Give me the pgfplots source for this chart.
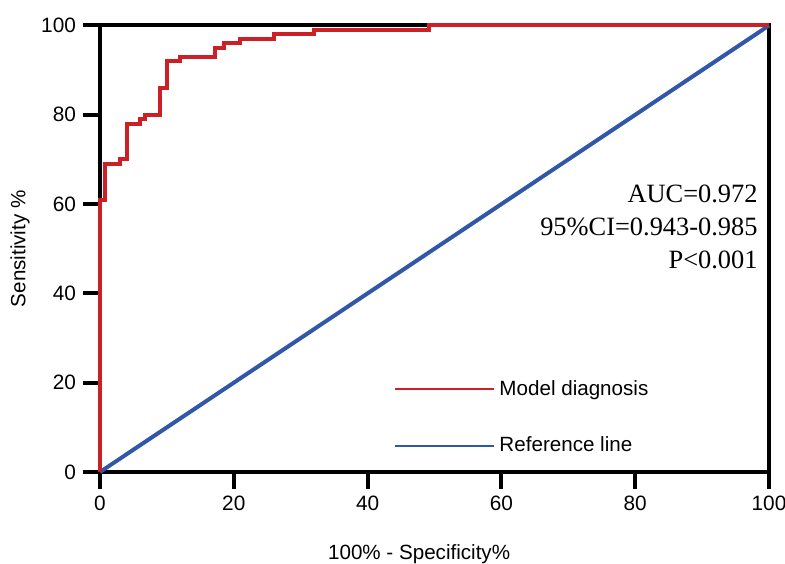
\documentclass[border=0pt]{standalone}
\usepackage{pgfplots}
\pgfplotsset{compat=1.18}
\usepackage{fontspec}
\setmainfont{Liberation Sans}
\newfontfamily\serifA{Liberation Serif}
\definecolor{rocred}{HTML}{CC2027}
\definecolor{refblue}{HTML}{3157A8}
\begin{document}
\begin{tikzpicture}
\begin{axis}[
  scale only axis, width=334.5pt, height=223.25pt,
  xmin=0, xmax=100, ymin=0, ymax=100,
  xtick={0,20,...,100}, ytick={0,20,...,100},
  xtick pos=bottom, ytick pos=left, tick align=outside,
  major tick length=8.5pt,
  every tick/.style={black, line width=2pt},
  axis line style={black, line width=2pt},
  font=\fontsize{10.3}{12}\selectfont,
  /pgf/number format/assume math mode=true,
  ticklabel style={font=\fontsize{10.4}{12}\selectfont},
  xlabel={100\% - Specificity\%},
  ylabel={Sensitivity \%},
  xlabel style={at={(axis description cs:0.477,-0.183)}, anchor=center},
  ylabel style={at={(axis description cs:-0.1196,0.5)}, anchor=center, rotate=0},
  clip=false,
  reverse legend,
  legend image code/.code={\draw[#1, line width=1.4pt] (0pt,0pt) -- (49.3pt,0pt);},
  legend style={draw=none, fill=none, inner sep=0pt, row sep=15.5pt,
    font=\fontsize{10.3}{12}\selectfont,
    at={(axis cs:43.9,12.2)}, anchor=west},
  legend cell align=left,
]
\addplot[refblue, line width=2pt] coordinates {(0,0) (100,100)};
\addlegendentry{Reference line}
\addplot[rocred, line width=2pt, line join=miter] coordinates {
(0,0) (0,61) (0.8,61) (0.8,69) (3,69) (3,70) (4,70) (4,78) (6,78) (6,79)
(6.8,79) (6.8,80) (9,80) (9,86) (10,86) (10,92) (12,92) (12,93)
(17.2,93) (17.2,95) (18.5,95) (18.5,96) (21,96) (21,97) (26,97) (26,98)
(32,98) (32,99) (49.2,99) (49.2,100) (100,100)};
\addlegendentry{Model diagnosis}
\node[font=\serifA\fontsize{13.2}{14}\selectfont, anchor=base east, inner sep=0pt] at (axis cs:98.35,60.25) {AUC=0.972};
\node[font=\serifA\fontsize{13.2}{14}\selectfont, anchor=base east, inner sep=0pt] at (axis cs:98.35,52.9) {95\%CI=0.943-0.985};
\node[font=\serifA\fontsize{13.2}{14}\selectfont, anchor=base east, inner sep=0pt] at (axis cs:98.35,45.5) {P<0.001};
\coordinate (sw) at (rel axis cs:0,0);
\coordinate (ne) at (rel axis cs:1,1);
\end{axis}
\pgfresetboundingbox
\useasboundingbox ([xshift=-50pt,yshift=-45.5pt]sw) rectangle ([xshift=8pt,yshift=12.75pt]ne);
\end{tikzpicture}
\end{document}
